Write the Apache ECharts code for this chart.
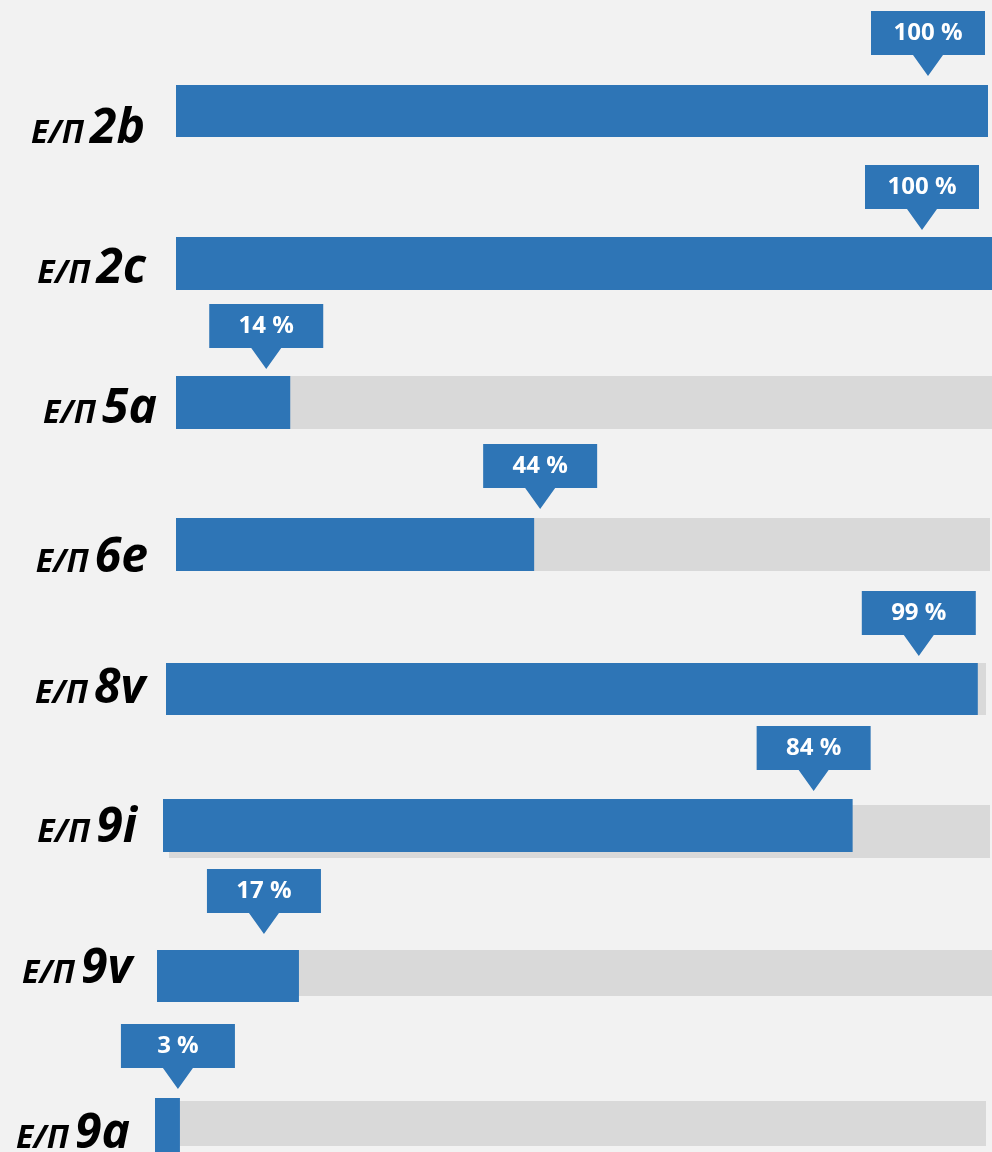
<!DOCTYPE html>
<html>
<head>
<meta charset="utf-8">
<script src="https://cdn.jsdelivr.net/npm/echarts@6/dist/echarts.min.js"></script>
<style>
html,body{margin:0;padding:0;background:#f2f2f2;}
#chart{width:992px;height:1152px;}
</style>
</head>
<body>
<div id="chart"></div>
<script>
// ---- data ----
const prefix = 'Е/П';
const categories = ['2b', '2c', '5a', '6e', '8v', '9i', '9v', '9a'];
const values = [100, 100, 14, 44, 99, 84, 17, 3];
const maxValue = 100;

// ---- layout (pixels) ----
const barBox   = [[176,85,812,52],[176,237,816,53],[176,376,816,53],[176,518,814,53],[166,663,820,52],[163,799,821,53],[157,950,835,52],[155,1098,831,54]];
const trackBox = [[176,85,812,52],[176,237,816,53],[176,376,816,53],[176,518,814,53],[166,663,820,52],[169,805,821,53],[157,950,835,46],[155,1101,831,45]];
const calloutDx = [-60, -70, -24, 6, -59, -39, -35, -2];
const tipGap    = [9, 7, 7, 9, 7, 8, 16, 9];
const labelRight = [145, 146, 157, 148, 145, 137, 132, 130];
const labelBase  = [143, 283, 423, 572, 703, 842, 983, 1148];

const BLUE = '#2e75b6', TRACK = '#d9d9d9';
const FONT = '"Open Sans", "Noto Sans", sans-serif';
const BIG = 48, SMALL = 32, M = 0.285;

const grids = [], xAxes = [], yAxes = [], trackSeries = [], barSeries = [], calloutSeries = [];
categories.forEach((c, i) => {
  const t = trackBox[i], b = barBox[i];
  grids.push({left: t[0], top: t[1], width: t[2], height: t[3]});
  grids.push({left: b[0], top: b[1], width: b[2], height: b[3]});
  [2*i, 2*i+1].forEach(g => {
    xAxes.push({gridIndex: g, type: 'value', min: 0, max: maxValue, show: false});
    yAxes.push({gridIndex: g, type: 'category', data: [prefix + ' ' + c], show: false});
  });
  trackSeries.push({
    type: 'bar', xAxisIndex: 2*i, yAxisIndex: 2*i, data: [maxValue],
    barWidth: '100%', itemStyle: {color: TRACK}, silent: true, z: 1
  });
  barSeries.push({
    type: 'bar', xAxisIndex: 2*i+1, yAxisIndex: 2*i+1, data: [values[i]],
    barWidth: '100%', itemStyle: {color: BLUE}, z: 2
  });
  calloutSeries.push({
    type: 'scatter', xAxisIndex: 2*i+1, yAxisIndex: 2*i+1, clip: false, z: 10,
    data: [[values[i], 0]],
    symbol: 'path://M0,0H114V44H72L57,65L42,44H0Z',
    symbolSize: [114, 65],
    symbolOffset: [calloutDx[i], -(b[3]/2 + tipGap[i] + 32.5)],
    itemStyle: {color: BLUE, opacity: 1},
    emphasis: {disabled: true},
    label: {
      show: true, formatter: values[i] + ' %',
      position: ['50%', '34%'], align: 'center', verticalAlign: 'middle',
      color: '#ffffff', fontSize: 24, fontWeight: 'bold', fontFamily: FONT
    }
  });
});

// left labels
const cv = document.createElement('canvas').getContext('2d');
cv.font = 'italic bold ' + BIG + 'px "Open Sans"';
const graphics = [];
categories.forEach((c, i) => {
  const w = cv.measureText(c).width;
  graphics.push({
    type: 'text', z: 20,
    style: {text: c, x: labelRight[i], y: labelBase[i] - M*BIG, align: 'right', verticalAlign: 'middle',
      font: 'italic bold ' + BIG + 'px ' + FONT, fill: '#000'}
  });
  graphics.push({
    type: 'text', z: 20,
    style: {text: prefix, x: labelRight[i] - w - 6, y: labelBase[i] - M*SMALL, align: 'right', verticalAlign: 'middle',
      font: 'italic bold ' + SMALL + 'px ' + FONT, fill: '#000'}
  });
});

const chart = echarts.init(document.getElementById('chart'), null, {renderer: 'canvas'});
chart.setOption({
  backgroundColor: '#f2f2f2',
  animation: false,
  grid: grids, xAxis: xAxes, yAxis: yAxes,
  series: trackSeries.concat(barSeries, calloutSeries),
  graphic: graphics
});
</script>
</body>
</html>
